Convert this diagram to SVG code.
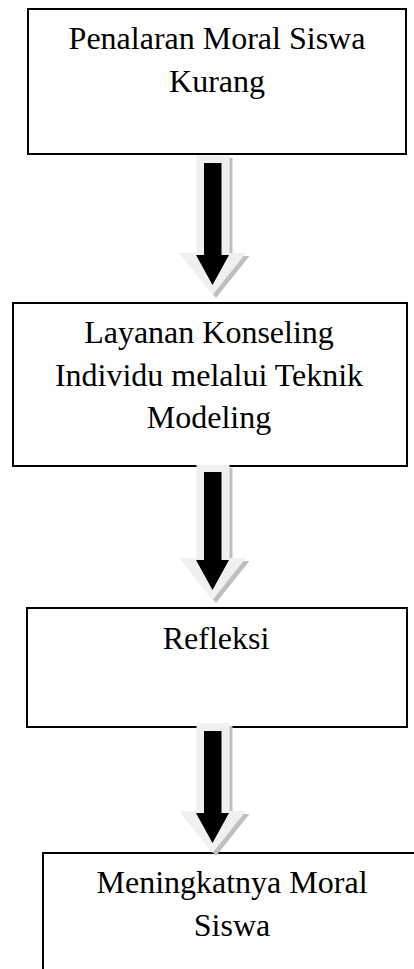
<svg xmlns="http://www.w3.org/2000/svg" width="414" height="969" viewBox="0 0 414 969">
<style>
.box{fill:#fff;stroke:#000;stroke-width:2}
.t{font-family:"Liberation Serif","Times New Roman",serif;font-size:32px;fill:#000;text-anchor:middle}
.sh{fill:#bfbfbf}
.lt{fill:#f0f0f0}
.bk{fill:#000}
</style>
<rect width="414" height="969" fill="#fff"/>
<g id="node1">
<rect class="box" x="28" y="9" width="378" height="145"/>
<text class="t" x="217" y="49">Penalaran Moral Siswa</text>
<text class="t" x="217" y="91.5">Kurang</text>
</g>
<g id="node2">
<rect class="box" x="13" y="303" width="394" height="163"/>
<text class="t" x="209" y="343">Layanan Konseling</text>
<text class="t" x="209" y="385.5">Individu melalui Teknik</text>
<text class="t" x="209" y="428">Modeling</text>
</g>
<g id="node3">
<rect class="box" x="27" y="608" width="380" height="119"/>
<text class="t" x="216" y="649">Refleksi</text>
</g>
<g id="node4">
<rect class="box" x="43" y="853" width="400" height="140"/>
<text class="t" x="232" y="893">Meningkatnya Moral</text>
<text class="t" x="232" y="935.5">Siswa</text>
</g>
<g id="connectors">
<g id="arrow1">
<path class="sh" d="M199.5,158 H232.5 V256 H249.5 L216,298 L182.5,256 H199.5 Z"/>
<path class="lt" d="M196.5,155 H229.5 V253 H246 L212.5,295 L179,253 H196.5 Z"/>
<path class="bk" d="M204,163 H221.5 V255 H229 L212.5,285 L196,255 H204 Z"/>
</g>
<g id="arrow2">
<path class="sh" d="M199.5,468 H232.5 V561 H249.5 L216,603 L182.5,561 H199.5 Z"/>
<path class="lt" d="M196.5,465 H229.5 V558 H246 L212.5,600 L179,558 H196.5 Z"/>
<path class="bk" d="M204,472 H221.5 V560 H229 L212.5,590 L196,560 H204 Z"/>
</g>
<g id="arrow3">
<path class="sh" d="M199.5,726 H232.5 V814 H249.5 L216,856 L182.5,814 H199.5 Z"/>
<path class="lt" d="M196.5,723 H229.5 V811 H246 L212.5,853 L179,811 H196.5 Z"/>
<path class="bk" d="M204,731 H221.5 V813 H229 L212.5,843 L196,813 H204 Z"/>
</g>
</g>
</svg>
